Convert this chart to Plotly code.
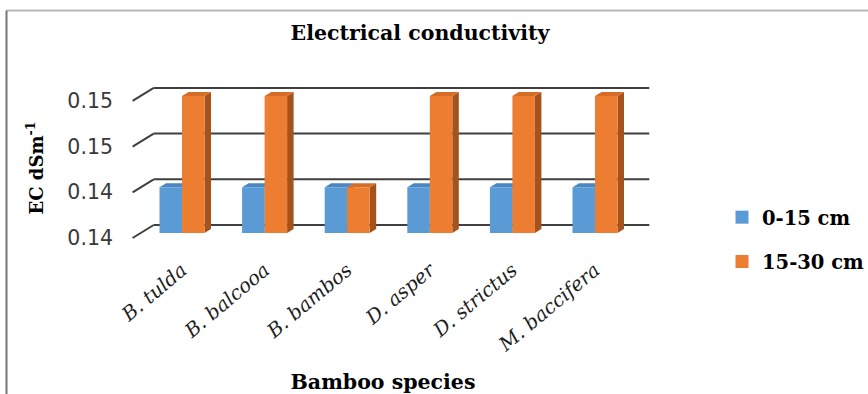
import plotly.graph_objects as go

# ---- data -------------------------------------------------------------
species = ["B. tulda", "B. balcooa", "B. bambos", "D. asper", "D. strictus", "M. baccifera"]
ec_0_15 = [0.140, 0.140, 0.140, 0.140, 0.140, 0.140]
ec_15_30 = [0.150, 0.150, 0.140, 0.150, 0.150, 0.150]
series_names = ["0-15 cm", "15-30 cm"]
y_tick_values = [0.135, 0.140, 0.145, 0.150]
y_tick_labels = ["0.14", "0.14", "0.15", "0.15"]

# ---- page geometry (pixels) ----------------------------------------------
W, H = 868, 394
PLOT_L, PLOT_R, PLOT_T, PLOT_B = 114, 652, 82, 254
CAT0_PX, CAT_STEP_PX = 182, 82.6          # first category centre, spacing
BASE_PX, PX_PER_UNIT = 233, 9140          # y pixel of axis minimum, px per EC unit
Y_MIN = y_tick_values[0]

# oblique 3-D projection: one depth unit shifts right and up
DX = 6.5 / CAT_STEP_PX
DY = 4.0 / PX_PER_UNIT
BAR_W = 22.5 / CAT_STEP_PX
BAR_DEPTH = 1.0
WALL_DEPTH = 2.0
FLOOR_FRONT = -1.25

x_range = [(PLOT_L - CAT0_PX) / CAT_STEP_PX, (PLOT_R - CAT0_PX) / CAT_STEP_PX]
y_range = [Y_MIN - (PLOT_B - BASE_PX) / PX_PER_UNIT, Y_MIN + (BASE_PX - PLOT_T) / PX_PER_UNIT]


def proj(c, v, d):
    return c + d * DX, v + d * DY


def px_to_paper(px, py):
    return (px - PLOT_L) / (PLOT_R - PLOT_L), (PLOT_B - py) / (PLOT_B - PLOT_T)


colors = {
    "0-15 cm": {"front": "#5B9BD5", "top": "#4A87C3", "side": "#3E73A8"},
    "15-30 cm": {"front": "#ED7D31", "top": "#D66D26", "side": "#A4531D"},
}

fig = go.Figure()

# ---- walls: back-wall gridlines and side-wall diagonals -----------------
shapes = []
grid_col = "#3F3F3F"
n = len(species)
for v in y_tick_values:
    xa, ya = proj(-0.5, v, WALL_DEPTH)
    xb, yb = proj(n - 0.5, v, WALL_DEPTH)
    shapes.append(dict(type="line", xref="x", yref="y", x0=xa, y0=ya, x1=xb, y1=yb,
                       line=dict(color=grid_col, width=2), layer="below"))
    xf, yf = proj(-0.5, v, FLOOR_FRONT)
    shapes.append(dict(type="line", xref="x", yref="y", x0=xf, y0=yf, x1=xa, y1=ya,
                       line=dict(color=grid_col, width=2), layer="below"))

# outer chart frame (top and left edges)
fx0, fy0 = px_to_paper(6.5, 10.5)
fx1, _ = px_to_paper(W + 2, 10.5)
_, fy1 = px_to_paper(6.5, H + 2)
shapes.append(dict(type="line", xref="paper", yref="paper", x0=fx0, y0=fy0, x1=fx1, y1=fy0,
                   line=dict(color="#B8B8B8", width=2)))
shapes.append(dict(type="line", xref="paper", yref="paper", x0=fx0, y0=fy0, x1=fx0, y1=fy1,
                   line=dict(color="#767676", width=2)))


# ---- 3-D bars -------------------------------------------------------------
def add_face(pts, color, name, hover=None):
    xs = [p[0] for p in pts] + [pts[0][0]]
    ys = [p[1] for p in pts] + [pts[0][1]]
    fig.add_trace(go.Scatter(
        x=xs, y=ys, mode="lines", fill="toself", fillcolor=color,
        line=dict(width=0, color=color), showlegend=False, name=name,
        hoverinfo="name+y" if hover else "skip", hoveron="fills",
    ))


for i, sp in enumerate(species):
    for k, (name, vals) in enumerate(zip(series_names, [ec_0_15, ec_15_30])):
        v = vals[i]
        x0 = i - BAR_W if k == 0 else i
        x1 = x0 + BAR_W
        col = colors[name]
        base = Y_MIN
        # side face
        add_face([proj(x1, base, 0), proj(x1, base, BAR_DEPTH),
                  proj(x1, v, BAR_DEPTH), proj(x1, v, 0)], col["side"], name)
        # top face
        add_face([proj(x0, v, 0), proj(x1, v, 0),
                  proj(x1, v, BAR_DEPTH), proj(x0, v, BAR_DEPTH)], col["top"], name)
        # front face
        add_face([proj(x0, base, 0), proj(x1, base, 0),
                  proj(x1, v, 0), proj(x0, v, 0)], col["front"], name, hover=True)

# legend entries
for name in series_names:
    fig.add_trace(go.Scatter(
        x=[None], y=[None], mode="markers", name=name, legendgroup=name,
        marker=dict(symbol="square", size=13, color=colors[name]["front"]),
    ))

# y tick labels sit on the front edge of the floor
tick_pos = [proj(-0.5, v, FLOOR_FRONT)[1] for v in y_tick_values]

fig.update_layout(
    width=W, height=H,
    margin=dict(l=PLOT_L, r=W - PLOT_R, t=PLOT_T, b=H - PLOT_B, autoexpand=False),
    paper_bgcolor="white", plot_bgcolor="rgba(0,0,0,0)",
    shapes=shapes,
    title=dict(text="<b>Electrical conductivity</b>", x=420 / W, xref="container",
               xanchor="center", y=1 - 33 / H, yanchor="middle", yref="container",
               font=dict(family="DejaVu Serif", size=20.5, color="#000000")),
    xaxis=dict(range=x_range, tickmode="array", tickvals=list(range(n)),
               ticktext=[f"<i>{s}</i>" for s in species], tickangle=-40,
               tickfont=dict(family="DejaVu Serif", size=19.5, color="#1E1E1E"),
               showgrid=False, zeroline=False, showline=False, ticks="",
               title=dict(text="<b>Bamboo species</b>", standoff=22,
                          font=dict(family="DejaVu Serif", size=20.5, color="#000000"))),
    yaxis=dict(range=y_range, tickmode="array", tickvals=tick_pos, ticktext=y_tick_labels,
               tickfont=dict(family="DejaVu Sans", size=20.5, color="#3A3A3A"),
               showgrid=False, zeroline=False, showline=False, ticks="",
               title=dict(text="<b>EC dSm<sup>-1</sup></b>", standoff=19,
                          font=dict(family="DejaVu Serif", size=18, color="#000000"))),
    legend=dict(x=px_to_paper(722, 0)[0], y=px_to_paper(0, 198)[1], xanchor="left", yanchor="top",
                font=dict(family="DejaVu Serif", size=19.5, color="#000000", weight="bold"),
                tracegroupgap=16, bgcolor="rgba(0,0,0,0)", itemclick=False),
    showlegend=True,
)

fig.write_html("out.html")
